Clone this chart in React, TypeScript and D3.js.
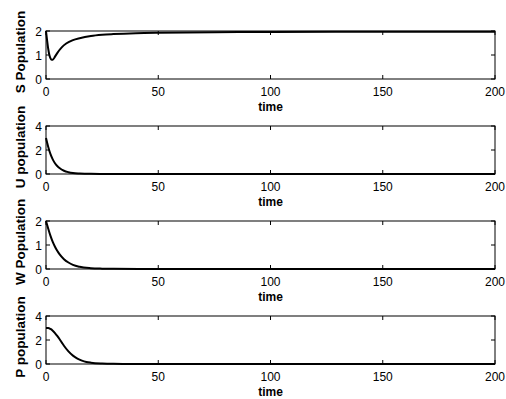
import React from "react";
import * as d3 from "d3";

// time samples for each state variable
const sTime = [0, 0.5, 1, 1.5, 2, 2.5, 3, 4, 5, 7, 9, 12, 15, 20, 25, 30, 40, 50, 75, 100, 150, 200];
const sPop = [2.0, 1.6, 1.25, 1.0, 0.86, 0.8, 0.8, 0.93, 1.08, 1.32, 1.48, 1.62, 1.7, 1.79, 1.84, 1.87, 1.91, 1.93, 1.95, 1.96, 1.97, 1.97];

const uTime = [0, 1, 2, 3, 4, 5, 6, 8, 10, 12, 15, 20, 30, 50, 100, 200];
const uPop = [3.0, 2.25, 1.65, 1.22, 0.9, 0.67, 0.5, 0.27, 0.15, 0.08, 0.04, 0.015, 0.005, 0, 0, 0];

const wTime = [0, 1, 2, 3, 4, 5, 6, 8, 10, 12, 15, 20, 25, 30, 50, 100, 200];
const wPop = [2.0, 1.68, 1.38, 1.13, 0.93, 0.76, 0.62, 0.41, 0.27, 0.17, 0.09, 0.035, 0.015, 0.006, 0, 0, 0];

const pTime = [0, 1, 2, 3, 4, 5, 6, 7, 8, 10, 12, 14, 16, 18, 20, 25, 30, 40, 50, 100, 200];
const pPop = [3.0, 3.0, 2.92, 2.78, 2.58, 2.34, 2.08, 1.8, 1.52, 1.05, 0.7, 0.45, 0.28, 0.17, 0.11, 0.04, 0.015, 0.005, 0, 0, 0];

const xTicks = [0, 50, 100, 150, 200];

const panels = [
  { label: "S Population", t: sTime, v: sPop, yMax: 2, yTicks: [0, 1, 2] },
  { label: "U population", t: uTime, v: uPop, yMax: 4, yTicks: [0, 2, 4] },
  { label: "W Population", t: wTime, v: wPop, yMax: 2, yTicks: [0, 1, 2] },
  { label: "P population", t: pTime, v: pPop, yMax: 4, yTicks: [0, 2, 4] },
];

const W = 506;
const H = 399;
const left = 46;
const right = 495;
const panelH = 48;
const firstTop = 31;
const step = 95;
const font = "'Liberation Sans', Arial, Helvetica, sans-serif";

const App = () => {
  const x = d3.scaleLinear().domain([0, 200]).range([left, right]);

  return (
    <svg
      width={W}
      height={H}
      style={{ position: "absolute", left: 0, top: 0, background: "#fff" }}
      fontFamily={font}
    >
      <rect width={W} height={H} fill="#fff" />
      {panels.map((p, i) => {
        const top = firstTop + i * step;
        const bottom = top + panelH;
        const y = d3.scaleLinear().domain([0, p.yMax]).range([bottom, top]);
        const line = d3
          .line<number>()
          .x((_, k) => x(p.t[k]))
          .y((d) => y(d))
          .curve(d3.curveMonotoneX);
        return (
          <g key={p.label}>
            <rect x={left} y={top} width={right - left} height={panelH} fill="none" stroke="#000" strokeWidth={1} />
            {xTicks.map((t) => (
              <g key={"x" + t}>
                <line x1={x(t)} x2={x(t)} y1={bottom} y2={bottom - 4} stroke="#000" />
                <line x1={x(t)} x2={x(t)} y1={top} y2={top + 4} stroke="#000" />
                <text x={x(t)} y={bottom + 16.5} fontSize={12} textAnchor="middle" fill="#000">
                  {t}
                </text>
              </g>
            ))}
            {p.yTicks.map((v) => (
              <g key={"y" + v}>
                <line x1={left} x2={left + 4} y1={y(v)} y2={y(v)} stroke="#000" />
                <line x1={right} x2={right - 4} y1={y(v)} y2={y(v)} stroke="#000" />
                <text x={left - 4} y={y(v) + 4.5} fontSize={12} textAnchor="end" fill="#000">
                  {v}
                </text>
              </g>
            ))}
            <path d={line(p.v) || ""} fill="none" stroke="#000" strokeWidth={2} />
            <text
              x={(left + right) / 2}
              y={bottom + 32}
              fontSize={12}
              fontWeight="bold"
              textAnchor="middle"
              fill="#000"
            >
              time
            </text>
            <text
              transform={`translate(25,${(top + bottom) / 2 - 3}) rotate(-90)`}
              fontSize={13.5}
              fontWeight="bold"
              textAnchor="middle"
              fill="#000"
            >
              {p.label}
            </text>
          </g>
        );
      })}
    </svg>
  );
};

export default App;
